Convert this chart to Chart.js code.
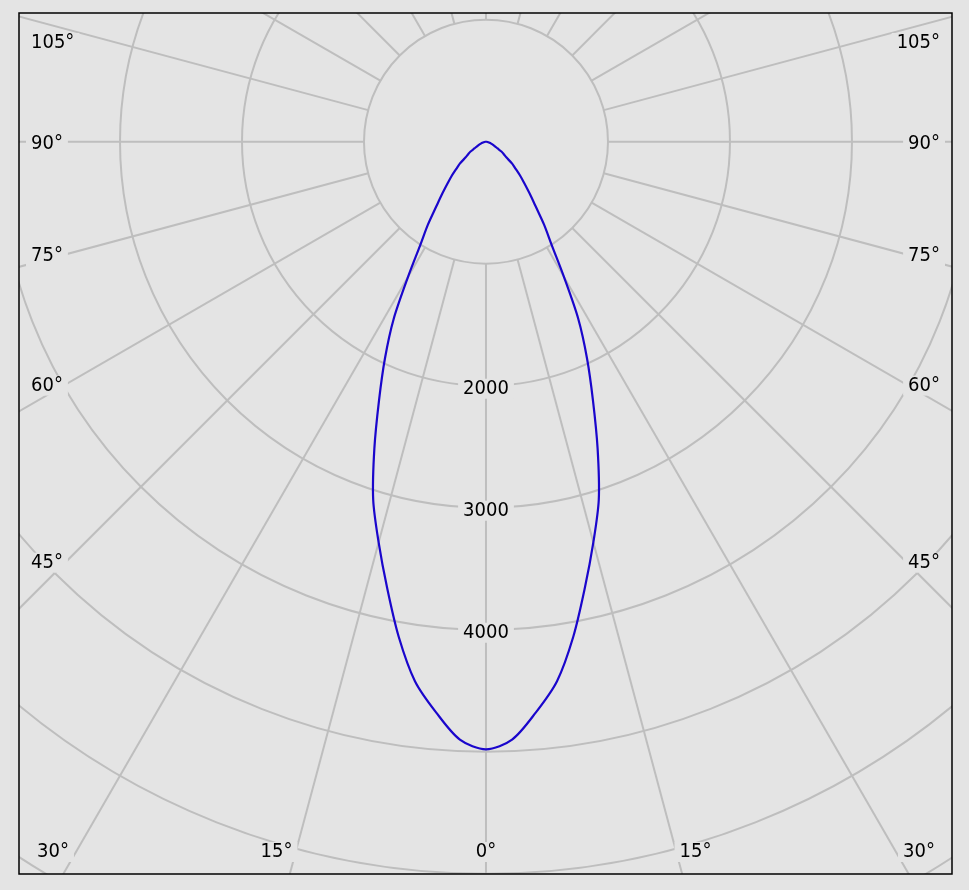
<!DOCTYPE html>
<html>
<head>
<meta charset="utf-8">
<script src="https://cdn.jsdelivr.net/npm/chart.js@4.4.1/dist/chart.umd.min.js"></script>
<style>
    html, body { margin: 0; padding: 0; background: #e4e4e4; }
    #wrap { width: 969px; height: 890px; position: relative; }
</style>
</head>
<body>
<div id="wrap"><canvas id="chart"></canvas></div>
<script>
(() => {
    /* DATA */

    // luminous intensity (cd) against gamma angle measured from nadir, same on both halves
    var gammaAngles = [0, 2.5, 5, 7.5, 10, 12.5, 15, 17.5, 20, 22.5, 25, 27.5, 30, 32.5, 35, 37.5, 40, 42.5, 45, 47.5, 50, 52.5, 55, 57.5, 60, 65, 70, 75, 80, 85, 90];
    var intensities = [4980, 4905, 4695, 4460, 4120, 3745, 3400, 3075, 2675, 2290, 1960, 1640, 1275, 1000, 830, 670, 560, 470, 400, 330, 280, 210, 178, 150, 110, 70, 45, 25, 12, 5, 0];

    var ringValues = [1000, 2000, 3000, 4000, 5000, 6000, 7000];
    var ringLabelValues = [2000, 3000, 4000];
    var spokeAngles = [0, 15, 30, 45, 60, 75, 90, 105, 120, 135, 150, 165, 180, 195, 210, 225, 240, 255, 270, 285, 300, 315, 330, 345];
    var angleLabels = [0, 15, 30, 45, 60, 75, 90, 105];

    /* STYLE */

    var BG = '#e4e4e4';
    var GRID = '#bebebe';
    var FONT = '20px "DejaVu Sans Condensed", "DejaVu Sans", sans-serif';
    var TEXT_SHIFT = 2;

    /* PRIVATE */

    var toXY = (gamma, value, side) => {
        var rad = gamma * Math.PI / 180;
        return { x: side * value * Math.sin(rad), y: -value * Math.cos(rad) };
    };

    var getCurve = () => {
        var points = [];
        for (var i = gammaAngles.length - 1; i >= 0; i--) {
            points.push(toXY(gammaAngles[i], intensities[i], -1));
        }
        for (var j = 1; j < gammaAngles.length; j++) {
            points.push(toXY(gammaAngles[j], intensities[j], 1));
        }
        return points;
    };

    var drawLabel = (ctx, text, x, y, align) => {
        y += TEXT_SHIFT;
        ctx.font = FONT;
        var w = ctx.measureText(text).width;
        var left = align == 'left' ? x : (align == 'right' ? x - w : x - w / 2);
        ctx.fillStyle = BG;
        ctx.fillRect(left - 5, y - 10, w + 10, 20);
        ctx.fillStyle = '#000';
        ctx.textAlign = align;
        ctx.textBaseline = 'middle';
        ctx.fillText(text, x, y);
    };

    var polarGrid = {
        id: 'polarGrid',
        beforeDraw: (chart) => {
            var ctx = chart.ctx;
            ctx.save();
            ctx.fillStyle = BG;
            ctx.fillRect(0, 0, chart.width, chart.height);
            ctx.restore();
        },
        beforeDatasetsDraw: (chart) => {
            var ctx = chart.ctx;
            var area = chart.chartArea;
            var xs = chart.scales.x;
            var ys = chart.scales.y;
            var cx = xs.getPixelForValue(0);
            var cy = ys.getPixelForValue(0);

            ctx.save();
            ctx.beginPath();
            ctx.rect(area.left, area.top, area.right - area.left, area.bottom - area.top);
            ctx.clip();

            ctx.strokeStyle = GRID;
            ctx.lineWidth = 2;
            ringValues.forEach(v => {
                ctx.beginPath();
                ctx.ellipse(cx, cy, xs.getPixelForValue(v) - cx, cy - ys.getPixelForValue(v), 0, 0, 2 * Math.PI);
                ctx.stroke();
            });

            spokeAngles.forEach(a => {
                var p0 = toXY(a, ringValues[0], 1);
                var p1 = toXY(a, 9000, 1);
                ctx.beginPath();
                ctx.moveTo(xs.getPixelForValue(p0.x), ys.getPixelForValue(p0.y));
                ctx.lineTo(xs.getPixelForValue(p1.x), ys.getPixelForValue(p1.y));
                ctx.stroke();
            });

            ringLabelValues.forEach(v => drawLabel(ctx, String(v), cx, ys.getPixelForValue(-v) + 1, 'center'));

            var halfW = Math.min(cx - area.left, area.right - cx) - 47;
            var baseY = area.bottom - 10;
            angleLabels.forEach(a => {
                [-1, 1].forEach(side => {
                    if (a == 0 && side == 1) return;
                    var rad = a * Math.PI / 180;
                    var sx = Math.sin(rad);
                    var cs = Math.cos(rad);
                    var tSide = sx > 1e-6 ? halfW / sx : Infinity;
                    var tBottom = cs > 1e-6 ? (baseY - cy) / cs : Infinity;
                    var text = a + '°';
                    if (tSide < tBottom) {
                        var y = Math.max(cy + tSide * cs, area.top + 28);
                        drawLabel(ctx, text, side < 0 ? area.left + 12 : area.right - 12, y, side < 0 ? 'left' : 'right');
                    } else {
                        var x = cx + side * tBottom * sx;
                        drawLabel(ctx, text, x, area.bottom - 24, a == 0 ? 'center' : (side < 0 ? 'right' : 'left'));
                    }
                });
            });
            ctx.restore();
        },
        afterDatasetsDraw: (chart) => {
            var ctx = chart.ctx;
            var area = chart.chartArea;
            ctx.save();
            ctx.strokeStyle = '#000';
            ctx.lineWidth = 1.5;
            ctx.strokeRect(area.left, area.top, area.right - area.left, area.bottom - area.top);
            ctx.restore();
        }
    };

    var config = {
        type: 'scatter',
        data: {
            datasets: [
                {
                    data: getCurve(),
                    showLine: true,
                    borderColor: '#1a06cc',
                    borderWidth: 2.2,
                    pointRadius: 0,
                    tension: 0.3
                }
            ]
        },
        options: {
            responsive: true,
            maintainAspectRatio: false,
            animation: false,
            layout: { padding: { left: 19, top: 13, right: 17, bottom: 16 } },
            scales: {
                x: { type: 'linear', min: -3828, max: 3820, display: false },
                y: { type: 'linear', min: -6002, max: 1055, display: false }
            },
            plugins: {
                legend: { display: false },
                tooltip: { enabled: false },
                title: { display: false }
            }
        },
        plugins: [polarGrid]
    };

    new Chart(document.getElementById('chart'), config);
})();
</script>
</body>
</html>
